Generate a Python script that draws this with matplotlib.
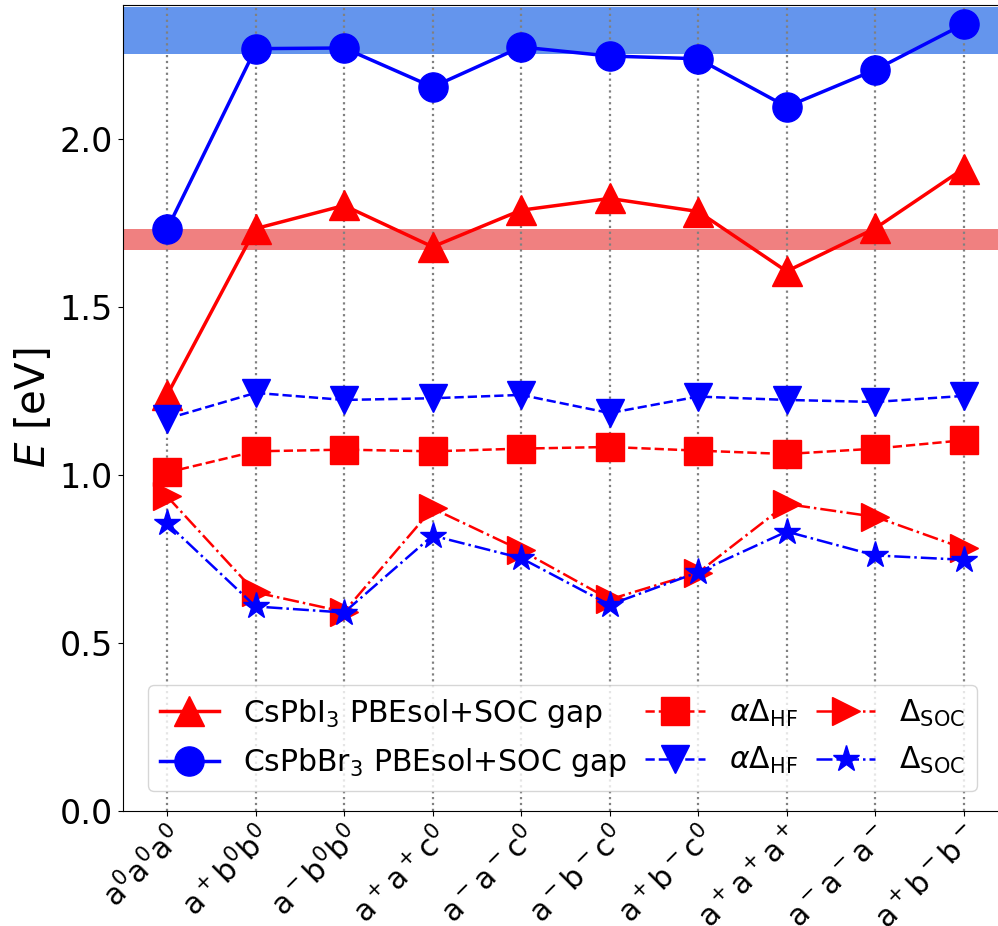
import numpy as np
import matplotlib
matplotlib.use('Agg')
import matplotlib.pyplot as plt

# Glazer tilt patterns on the x axis
tilts = [r'$\mathrm{a^0a^0a^0}$', r'$\mathrm{a^+b^0b^0}$', r'$\mathrm{a^-b^0b^0}$',
         r'$\mathrm{a^+a^+c^0}$', r'$\mathrm{a^-a^-c^0}$', r'$\mathrm{a^-b^-c^0}$',
         r'$\mathrm{a^+b^-c^0}$', r'$\mathrm{a^+a^+a^+}$', r'$\mathrm{a^-a^-a^-}$',
         r'$\mathrm{a^+b^-b^-}$']

# CsPbI3 (red)
gap_I = [1.238, 1.734, 1.803, 1.680, 1.789, 1.824, 1.785, 1.607, 1.735, 1.913]
hf_I = [1.008, 1.071, 1.076, 1.071, 1.079, 1.084, 1.073, 1.063, 1.079, 1.104]
soc_I = [0.937, 0.651, 0.593, 0.901, 0.776, 0.630, 0.710, 0.914, 0.876, 0.782]

# CsPbBr3 (blue)
gap_Br = [1.732, 2.270, 2.272, 2.156, 2.275, 2.248, 2.240, 2.097, 2.207, 2.343]
hf_Br = [1.168, 1.245, 1.224, 1.229, 1.239, 1.185, 1.234, 1.224, 1.218, 1.236]
soc_Br = [0.857, 0.609, 0.591, 0.820, 0.753, 0.614, 0.711, 0.832, 0.761, 0.748]

# experimental gap ranges
exp_I = (1.67, 1.734)
exp_Br = (2.253, 2.393)

x = np.arange(len(tilts))

fig = plt.figure(figsize=(9.98, 9.26), dpi=100)
ax = fig.add_axes([0.123, 0.1242, 0.887, 0.8704])

ax.axhspan(exp_Br[0], exp_Br[1], color='cornflowerblue', lw=0)
ax.axhspan(exp_I[0], exp_I[1], color='lightcoral', lw=0)

ax.plot(x, gap_I, '-', color='red', marker='^', ms=22, lw=2.5,
        label=r'CsPbI$_3$ PBEsol+SOC gap')
ax.plot(x, gap_Br, '-', color='blue', marker='o', ms=21, lw=2.5,
        label=r'CsPbBr$_3$ PBEsol+SOC gap')
ax.plot(x, hf_I, '--', color='red', marker='s', ms=20, lw=1.8,
        label=r'$\alpha\Delta_{\rm HF}$')
ax.plot(x, hf_Br, '--', color='blue', marker='v', ms=20, lw=1.8,
        label=r'$\alpha\Delta_{\rm HF}$')
ax.plot(x, soc_I, '-.', color='red', marker='>', ms=20, lw=1.8,
        label=r'$\Delta_{\rm SOC}$')
ax.plot(x, soc_Br, '-.', color='blue', marker='*', ms=20, lw=1.8,
        label=r'$\Delta_{\rm SOC}$')

ax.set_xlim(-0.5, 9.5)
ax.set_ylim(0, 2.4)
ax.set_xticks(x)
ax.set_xticklabels(tilts, rotation=45, ha='right', fontsize=21.5,
                   rotation_mode='anchor')
ax.set_yticks([0.0, 0.5, 1.0, 1.5, 2.0])
ax.tick_params(axis='y', labelsize=24)
ax.set_ylabel(r'$E$ [eV]', fontsize=29)
ax.grid(axis='x', linestyle=':', color='gray', lw=1.6)
ax.spines['right'].set_visible(False)

ax.legend(ncol=3, fontsize=21.5, loc='lower right', bbox_to_anchor=(0.982, 0.006),
          handlelength=2.0, columnspacing=0.6, handletextpad=0.8,
          borderpad=0.4, labelspacing=0.55)

fig.savefig('out.png', dpi=100)
